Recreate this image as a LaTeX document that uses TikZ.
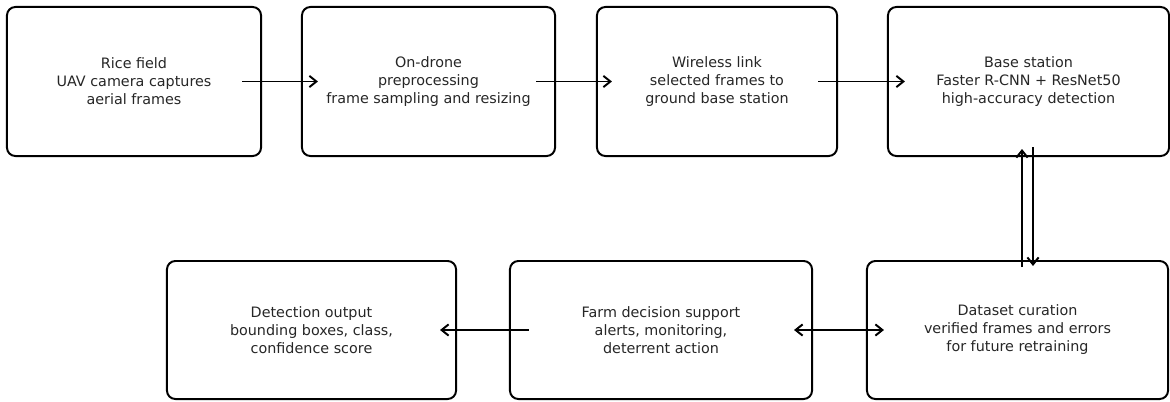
\documentclass[tikz,border=0pt]{standalone}
\usepackage{fontspec}
\setmainfont{DejaVu Sans}
\usepackage{tikz}
\usetikzlibrary{calc}
\usetikzlibrary{arrows.meta}

\begin{document}
\begin{tikzpicture}[x=0.025cm, y=-0.025cm, >={Straight Barb[length=5pt,width=8pt]},
  every node/.style={font=\fontsize{10.2pt}{12.8pt}\selectfont, text=black!85},
  stage/.style={draw, line width=1.4pt, rounded corners=6pt, align=center, inner sep=0pt},
  flow/.style={->, line width=1.4pt}]

\useasboundingbox (0,0) rectangle (1170,401);

% top row
\foreach \nm/\cx/\bw/\txt in {rice/134/6.35/{Rice field\\UAV camera captures\\aerial frames},
    drone/428.5/6.325/{On-drone\\preprocessing\\frame sampling and resizing},
    wireless/717/6.0/{Wireless link\\selected frames to\\ground base station},
    base/1028.5/7.025/{Base station\\Faster R-CNN + ResNet50\\high-accuracy detection}} {
  \node[stage, minimum width=\bw cm, minimum height=3.725cm] (\nm) at (\cx,81.5) {\txt};
}

% bottom row
\foreach \nm/\cx/\bw/\txt in {output/311.5/7.225/{Detection output\\bounding boxes, class,\\confidence score},
    farm/661/7.55/{Farm decision support\\alerts, monitoring,\\deterrent action},
    data/1017.5/7.525/{Dataset curation\\verified frames and errors\\for future retraining}} {
  \node[stage, minimum width=\bw cm, minimum height=3.45cm] (\nm) at (\cx,330) {\txt};
}

\draw[flow] ($(rice.east)+(-20,0)$) -- ($(drone.west)+(17,0)$);
\draw[flow] ($(drone.east)+(-20,0)$) -- ($(wireless.west)+(16,0)$);
\draw[flow] ($(wireless.east)+(-20,0)$) -- ($(base.west)+(18,0)$);

\draw[flow] ($(farm.west)+(20,0)$) -- ($(output.east)+(-17,0)$);
\draw[flow, <->] ($(farm.east)+(-19,0)$) -- ($(data.west)+(18,0)$);

\draw[flow] ($(base.south |- data.north)+(-6.5,7)$) -- ($(base.south)+(-6.5,-8)$);
\draw[flow] ($(base.south)+(4.5,-10)$) -- ($(base.south |- data.north)+(4.5,6)$);

\end{tikzpicture}
\end{document}
